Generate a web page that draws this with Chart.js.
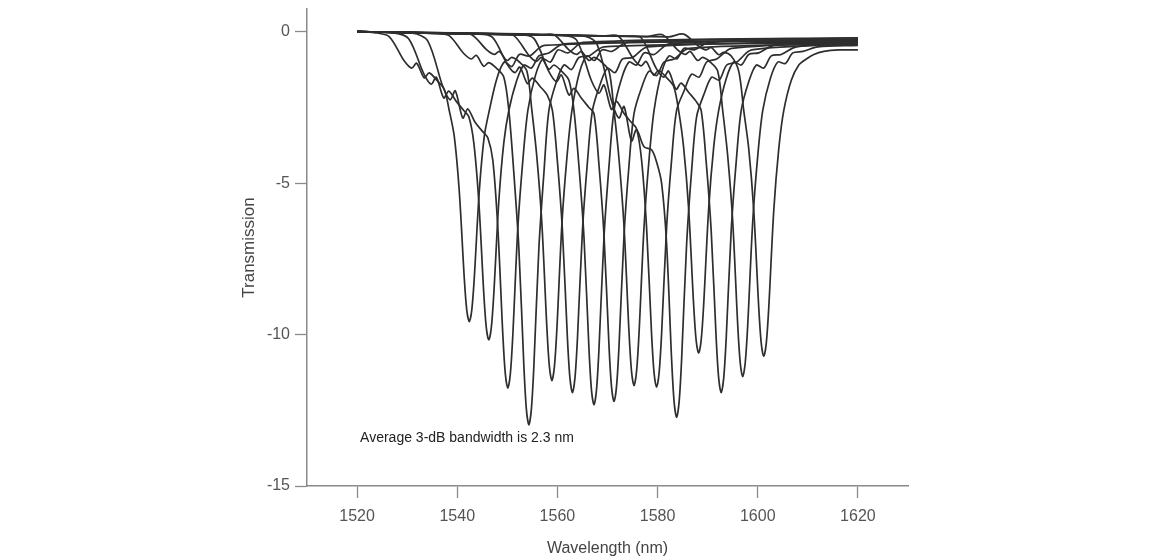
<!DOCTYPE html>
<html>
<head>
<meta charset="utf-8">
<script src="https://cdn.jsdelivr.net/npm/chart.js@4.4.1/dist/chart.umd.min.js"></script>
<style>
  html, body { margin: 0; padding: 0; background: #ffffff; }
  #wrap { width: 1149px; height: 558px; position: relative; }
</style>
</head>
<body>
<div id="wrap"><canvas id="c"></canvas></div>
<script>
// ---- data (wavelength in nm, transmission in dB) ----
const xTicks = [1520, 1540, 1560, 1580, 1600, 1620];
const yTicks = [-15, -10, -5, 0];
const xTitle = 'Wavelength (nm)';
const yTitle = 'Transmission';
const note = 'Average 3-dB bandwidth is 2.3 nm';

const wl01 = [1520, 1523.4, 1526.4, 1529.4, 1530.9, 1531.9, 1533.4, 1534.4, 1535.9, 1537.4, 1538.4, 1539.4, 1540.4, 1541.4, 1541.9, 1542.4, 1542.9, 1543.4, 1544.4, 1545.4, 1546.4, 1547.9, 1549.4, 1550.9, 1552.4, 1554.4, 1557.4, 1620];
const tr01 = [0, -0.03, -0.16, -0.96, -1.2, -1.04, -1.52, -1.36, -1.6, -1.9, -2.6, -3.45, -5.26, -8.13, -9.19, -9.57, -9.19, -8.13, -5.26, -3.45, -2.6, -1.55, -1.0, -1.15, -0.75, -0.8, -0.45, -0.25];

const wl02 = [1520, 1527.3, 1530.3, 1533.3, 1534.8, 1535.8, 1537.3, 1538.3, 1539.8, 1541.3, 1542.3, 1543.3, 1544.3, 1545.3, 1545.8, 1546.3, 1546.8, 1547.3, 1548.3, 1549.3, 1550.3, 1551.8, 1553.3, 1554.8, 1556.3, 1558.3, 1561.3, 1620];
const tr02 = [0, -0.04, -0.23, -1.38, -1.73, -1.5, -2.19, -1.96, -2.3, -2.6, -2.8, -3.66, -5.60, -8.65, -9.77, -10.18, -9.77, -8.65, -5.60, -3.66, -2.6, -1.65, -1.1, -1.2, -0.8, -0.7, -0.4, -0.3];

const wl03 = [1520, 1531.1, 1534.1, 1537.1, 1538.6, 1539.6, 1541.1, 1542.1, 1543.6, 1545.1, 1546.1, 1547.1, 1548.1, 1549.1, 1549.6, 1550.1, 1550.6, 1551.1, 1552.1, 1553.1, 1554.1, 1555.6, 1557.1, 1558.6, 1560.1, 1562.1, 1565.1, 1620];
const tr03 = [0, -0.05, -0.3, -1.8, -2.25, -1.95, -2.85, -2.55, -3.0, -3.3, -3.5, -4.24, -6.47, -10.0, -11.30, -11.77, -11.30, -10.0, -6.47, -4.24, -2.6, -1.45, -0.9, -1.0, -0.6, -0.7, -0.35, -0.2];

const wl04 = [1520, 1535.3, 1538.3, 1541.3, 1542.8, 1543.8, 1545.3, 1546.3, 1547.8, 1549.3, 1550.3, 1551.3, 1552.3, 1553.3, 1553.8, 1554.3, 1554.8, 1555.3, 1556.3, 1557.3, 1558.3, 1559.8, 1561.3, 1562.8, 1564.3, 1566.3, 1569.3, 1620];
const tr04 = [0, -0.06, -0.12, -0.72, -0.9, -0.78, -1.14, -1.02, -1.2, -1.5, -2.6, -4.67, -7.14, -11.03, -12.46, -12.98, -12.46, -11.03, -7.14, -4.67, -2.6, -1.65, -1.1, -1.25, -0.85, -0.8, -0.5, -0.35];

const wl05 = [1520, 1539.9, 1542.9, 1545.9, 1547.4, 1548.4, 1549.9, 1550.9, 1552.4, 1553.9, 1554.9, 1555.9, 1556.9, 1557.9, 1558.4, 1558.9, 1559.4, 1559.9, 1560.9, 1561.9, 1562.9, 1564.4, 1565.9, 1567.4, 1568.9, 1570.9, 1573.9, 1620];
const tr05 = [0, -0.07, -0.1, -0.6, -0.75, -0.65, -0.95, -0.85, -1.0, -1.3, -2.6, -4.15, -6.34, -9.79, -11.06, -11.52, -11.06, -9.79, -6.34, -4.15, -2.6, -1.35, -0.8, -0.95, -0.6, -0.65, -0.35, -0.2];

const wl06 = [1520, 1544, 1547, 1550, 1551.5, 1552.5, 1554, 1555, 1556.5, 1558, 1559, 1560, 1561, 1562, 1562.5, 1563, 1563.5, 1564, 1565, 1566, 1567, 1568.5, 1570, 1571.5, 1573, 1575, 1578, 1620];
const tr06 = [0, -0.08, -0.18, -1.08, -1.35, -1.17, -1.71, -1.53, -1.8, -2.1, -2.6, -4.29, -6.56, -10.13, -11.44, -11.92, -11.44, -10.13, -6.56, -4.29, -2.6, -1.75, -1.2, -1.35, -0.9, -0.85, -0.5, -0.3];

const wl07 = [1520, 1548.3, 1551.3, 1554.3, 1555.8, 1556.8, 1558.3, 1559.3, 1560.8, 1562.3, 1563.3, 1564.3, 1565.3, 1566.3, 1566.8, 1567.3, 1567.8, 1568.3, 1569.3, 1570.3, 1571.3, 1572.8, 1574.3, 1575.8, 1577.3, 1579.3, 1582.3, 1620];
const tr07 = [0, -0.09, -0.13, -0.78, -0.98, -0.85, -1.24, -1.1, -1.3, -1.6, -2.6, -4.44, -6.78, -10.47, -11.83, -12.32, -11.83, -10.47, -6.78, -4.44, -2.6, -1.55, -1.0, -1.1, -0.7, -0.75, -0.4, -0.25];

const wl08 = [1520, 1552.3, 1555.3, 1558.3, 1559.8, 1560.8, 1562.3, 1563.3, 1564.8, 1566.3, 1567.3, 1568.3, 1569.3, 1570.3, 1570.8, 1571.3, 1571.8, 1572.3, 1573.3, 1574.3, 1575.3, 1576.8, 1578.3, 1579.8, 1581.3, 1583.3, 1586.3, 1620];
const tr08 = [0, -0.1, -0.22, -1.32, -1.65, -1.43, -2.09, -1.87, -2.2, -2.5, -2.7, -4.40, -6.72, -10.38, -11.72, -12.21, -11.72, -10.38, -6.72, -4.40, -2.7, -1.85, -1.3, -1.45, -1.0, -0.9, -0.55, -0.4];

const wl09 = [1520, 1556.3, 1559.3, 1562.3, 1563.8, 1564.8, 1566.3, 1567.3, 1568.8, 1570.3, 1571.3, 1572.3, 1573.3, 1574.3, 1574.8, 1575.3, 1575.8, 1576.3, 1577.3, 1578.3, 1579.3, 1580.8, 1582.3, 1583.8, 1585.3, 1587.3, 1590.3, 1620];
const tr09 = [0, -0.11, -0.1, -0.6, -0.75, -0.65, -0.95, -0.85, -1.0, -1.3, -2.6, -4.21, -6.43, -9.94, -11.22, -11.69, -11.22, -9.94, -6.43, -4.21, -2.6, -1.35, -0.8, -0.9, -0.55, -0.6, -0.35, -0.25];

const wl10 = [1520, 1560.8, 1563.8, 1566.8, 1568.3, 1569.3, 1570.8, 1571.8, 1573.3, 1574.8, 1575.8, 1576.8, 1577.8, 1578.8, 1579.3, 1579.8, 1580.3, 1580.8, 1581.8, 1582.8, 1583.8, 1585.3, 1586.8, 1588.3, 1589.8, 1591.8, 1594.8, 1620];
const tr10 = [0, -0.12, -0.27, -1.62, -2.03, -1.76, -2.57, -2.3, -2.7, -3.0, -3.2, -4.23, -6.46, -9.98, -11.27, -11.74, -11.27, -9.98, -6.46, -4.23, -2.6, -1.95, -1.4, -1.5, -1.0, -0.9, -0.55, -0.35];

const wl11 = [1520, 1564.8, 1567.8, 1570.8, 1572.3, 1573.3, 1574.8, 1575.8, 1577.3, 1578.8, 1579.8, 1580.8, 1581.8, 1582.8, 1583.3, 1583.8, 1584.3, 1584.8, 1585.8, 1586.8, 1587.8, 1589.3, 1590.8, 1592.3, 1593.8, 1595.8, 1598.8, 1620];
const tr11 = [0, -0.13, -0.38, -2.28, -2.85, -2.47, -3.61, -3.23, -3.8, -3.9, -4.3, -5.0, -7.00, -10.82, -12.22, -12.73, -12.22, -10.82, -7.00, -4.58, -2.8, -2.05, -1.5, -1.6, -1.1, -1.0, -0.6, -0.4];

const wl12 = [1520, 1569.2, 1572.2, 1575.2, 1576.7, 1577.7, 1579.2, 1580.2, 1581.7, 1583.2, 1584.2, 1585.2, 1586.2, 1587.2, 1587.7, 1588.2, 1588.7, 1589.2, 1590.2, 1591.2, 1592.2, 1593.7, 1595.2, 1596.7, 1598.2, 1600.2, 1603.2, 1620];
const tr12 = [0, -0.14, -0.15, -0.9, -1.13, -0.98, -1.43, -1.28, -1.5, -1.8, -2.6, -3.82, -5.84, -9.02, -10.19, -10.61, -10.19, -9.02, -5.84, -3.82, -2.6, -1.55, -1.0, -1.1, -0.75, -0.7, -0.45, -0.3];

const wl13 = [1520, 1573.7, 1576.7, 1579.7, 1581.2, 1582.2, 1583.7, 1584.7, 1586.2, 1587.7, 1588.7, 1589.7, 1590.7, 1591.7, 1592.2, 1592.7, 1593.2, 1593.7, 1594.7, 1595.7, 1596.7, 1598.2, 1599.7, 1601.2, 1602.7, 1604.7, 1607.7, 1620];
const tr13 = [0, -0.15, -0.2, -1.2, -1.5, -1.3, -1.9, -1.7, -2.0, -2.3, -2.6, -4.29, -6.56, -10.13, -11.44, -11.92, -11.44, -10.13, -6.56, -4.29, -2.6, -1.65, -1.1, -1.2, -0.8, -0.75, -0.5, -0.35];

const wl14 = [1520, 1578, 1581, 1584, 1585.5, 1586.5, 1588, 1589, 1590.5, 1592, 1593, 1594, 1595, 1596, 1596.5, 1597, 1597.5, 1598, 1599, 1600, 1601, 1602.5, 1604, 1605.5, 1607, 1609, 1612, 1620];
const tr14 = [0, -0.16, -0.1, -0.6, -0.75, -0.65, -0.95, -0.85, -1.0, -1.3, -2.6, -4.10, -6.26, -9.68, -10.93, -11.39, -10.93, -9.68, -6.26, -4.10, -2.6, -1.55, -1.0, -1.05, -0.7, -0.65, -0.5, -0.45];

const wl15 = [1520, 1582.2, 1585.2, 1588.2, 1589.7, 1590.7, 1592.2, 1593.2, 1594.7, 1596.2, 1597.2, 1598.2, 1599.2, 1600.2, 1600.7, 1601.2, 1601.7, 1602.2, 1603.2, 1604.2, 1605.2, 1606.7, 1608.2, 1609.7, 1611.2, 1613.2, 1616.2, 1620];
const tr15 = [0, -0.17, -0.08, -0.48, -0.6, -0.52, -0.76, -0.68, -0.8, -1.3, -2.6, -3.86, -5.90, -9.11, -10.29, -10.72, -10.29, -9.11, -5.90, -3.86, -2.6, -1.6, -1.1, -0.9, -0.75, -0.65, -0.6, -0.6];

const wavelengths = [wl01, wl02, wl03, wl04, wl05, wl06, wl07, wl08, wl09, wl10, wl11, wl12, wl13, wl14, wl15];
const transmissions = [tr01, tr02, tr03, tr04, tr05, tr06, tr07, tr08, tr09, tr10, tr11, tr12, tr13, tr14, tr15];

// ---- chart ----
const FONT = "'Liberation Sans', Arial, sans-serif";

const datasets = wavelengths.map((wl, i) => ({
  label: 'spectrum ' + (i + 1),
  data: wl.map((x, j) => ({ x: x, y: transmissions[i][j] })),
  showLine: true,
  borderColor: '#2e2e2e',
  borderWidth: 1.7,
  pointRadius: 0,
  fill: false,
  tension: 0.3
}));

const notePlugin = {
  id: 'note',
  afterDatasetsDraw(chart) {
    const ctx = chart.ctx;
    const xs = chart.scales.x, ys = chart.scales.y;
    ctx.save();
    ctx.font = "14px " + FONT;
    ctx.fillStyle = '#222222';
    ctx.textAlign = 'left';
    ctx.textBaseline = 'middle';
    ctx.fillText(note, xs.getPixelForValue(1520.6), ys.getPixelForValue(-13.42));
    ctx.restore();
  }
};

new Chart(document.getElementById('c'), {
  type: 'scatter',
  data: { datasets: datasets },
  options: {
    responsive: true,
    maintainAspectRatio: false,
    animation: false,
    events: [],
    layout: { padding: { left: 239, right: 241, top: 9, bottom: 0 } },
    plugins: { legend: { display: false }, tooltip: { enabled: false } },
    scales: {
      x: {
        type: 'linear',
        min: 1510,
        max: 1630,
        afterBuildTicks(scale) { scale.ticks = xTicks.map(v => ({ value: v })); },
        afterFit(scale) { scale.height = 72; scale.paddingLeft = 0; scale.paddingRight = 0; },
        grid: { drawOnChartArea: false, drawTicks: true, tickLength: 12, tickWidth: 1.3, color: '#8a8a8a' },
        border: { display: true, color: '#8a8a8a', width: 1.5 },
        ticks: { color: '#555555', font: { family: FONT, size: 16 }, padding: 9, maxRotation: 0, callback: v => String(v) },
        title: { display: true, text: xTitle, color: '#444444', font: { family: FONT, size: 16 }, padding: { top: 0, bottom: 0 } }
      },
      y: {
        type: 'linear',
        min: -15,
        max: 0.75,
        afterBuildTicks(scale) { scale.ticks = yTicks.map(v => ({ value: v })); },
        afterFit(scale) { scale.width = 68; scale.paddingTop = 0; scale.paddingBottom = 0; },
        grid: { drawOnChartArea: false, drawTicks: true, tickLength: 12, tickWidth: 1.3, color: '#8a8a8a' },
        border: { display: true, color: '#8a8a8a', width: 1.5 },
        ticks: { color: '#555555', font: { family: FONT, size: 16 }, padding: 5, callback: v => String(v) },
        title: { display: true, text: yTitle, color: '#444444', font: { family: FONT, size: 17 }, padding: { top: 0, bottom: 0 } }
      }
    }
  },
  plugins: [notePlugin]
});
</script>
</body>
</html>
